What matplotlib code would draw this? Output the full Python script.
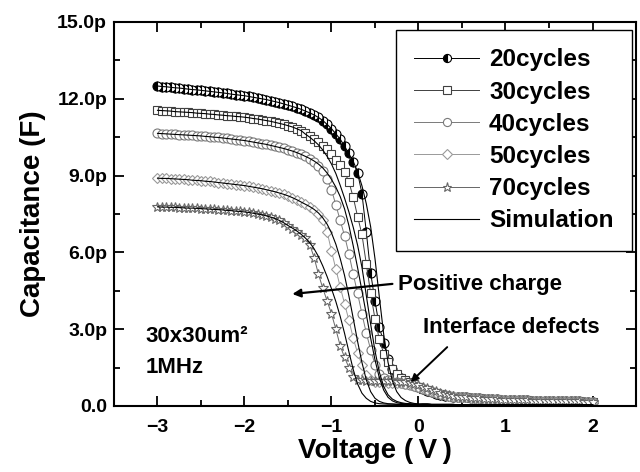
import numpy as np
import matplotlib
matplotlib.use('Agg')
import matplotlib.pyplot as plt

plt.rcParams['font.family'] = ['Liberation Sans', 'DejaVu Sans']
plt.rcParams['font.weight'] = 'bold'
plt.rcParams['axes.labelweight'] = 'bold'

# bias voltage, 0.05 V steps from -3 V to 2 V
volt = np.round(np.arange(-3.0, 2.0001, 0.05), 2)

# measured C-V (pF), -3.00 .. 0.50 V, then the shared flat tail 0.55 .. 2.00 V
tail_c = [0.34, 0.33, 0.31, 0.30, 0.29, 0.28, 0.27, 0.26, 0.25, 0.25,
          0.24, 0.23, 0.23, 0.22, 0.22, 0.21, 0.21, 0.21, 0.20, 0.20,
          0.20, 0.19, 0.19, 0.19, 0.18, 0.18, 0.18, 0.17, 0.17, 0.17]

c20 = [12.50, 12.48, 12.47, 12.45, 12.43, 12.42, 12.40, 12.38, 12.36, 12.35,
       12.33, 12.31, 12.29, 12.27, 12.25, 12.23, 12.21, 12.18, 12.16, 12.14,
       12.12, 12.09, 12.06, 12.03, 12.00, 11.97, 11.93, 11.89, 11.85, 11.80,
       11.75, 11.70, 11.65, 11.59, 11.52, 11.45, 11.37, 11.27, 11.15, 11.00,
       10.83, 10.63, 10.42, 10.15, 9.90, 9.55, 9.10, 8.30, 6.80, 5.20,
       4.10, 3.10, 2.45, 1.85, 1.45, 1.22, 1.08, 0.98, 0.90, 0.82,
       0.74, 0.66, 0.59, 0.53, 0.48, 0.44, 0.41, 0.39, 0.37, 0.36, 0.35] + tail_c

c30 = [11.55, 11.54, 11.53, 11.52, 11.50, 11.49, 11.48, 11.47, 11.46, 11.44,
       11.43, 11.42, 11.40, 11.39, 11.37, 11.36, 11.34, 11.33, 11.31, 11.30,
       11.28, 11.26, 11.23, 11.21, 11.18, 11.15, 11.12, 11.08, 11.04, 11.00,
       10.95, 10.90, 10.83, 10.76, 10.67, 10.55, 10.42, 10.30, 10.16, 10.02,
       9.85, 9.62, 9.40, 9.15, 8.75, 8.15, 7.40, 6.70, 5.55, 4.40,
       3.40, 2.60, 2.05, 1.70, 1.45, 1.25, 1.10, 1.00, 0.92, 0.84,
       0.76, 0.68, 0.61, 0.55, 0.50, 0.45, 0.42, 0.39, 0.37, 0.36, 0.35] + tail_c

c40 = [10.65, 10.64, 10.63, 10.62, 10.61, 10.60, 10.59, 10.58, 10.57, 10.56,
       10.55, 10.53, 10.52, 10.50, 10.49, 10.47, 10.45, 10.43, 10.41, 10.39,
       10.37, 10.34, 10.31, 10.28, 10.25, 10.22, 10.18, 10.14, 10.10, 10.06,
       10.01, 9.96, 9.90, 9.83, 9.75, 9.65, 9.53, 9.38, 9.18, 8.85,
       8.45, 7.85, 7.25, 6.65, 5.95, 5.15, 4.40, 3.60, 2.85, 2.20,
       1.62, 1.25, 1.08, 1.00, 0.95, 0.92, 0.89, 0.86, 0.83, 0.79,
       0.74, 0.68, 0.62, 0.56, 0.51, 0.46, 0.42, 0.39, 0.37, 0.36, 0.35] + tail_c

c50 = [8.90, 8.89, 8.89, 8.88, 8.87, 8.86, 8.85, 8.84, 8.82, 8.81,
       8.80, 8.78, 8.77, 8.75, 8.73, 8.71, 8.69, 8.67, 8.65, 8.63,
       8.61, 8.58, 8.55, 8.52, 8.49, 8.45, 8.41, 8.37, 8.32, 8.27,
       8.21, 8.14, 8.06, 7.97, 7.88, 7.78, 7.66, 7.50, 7.25, 6.80,
       6.05, 5.35, 4.65, 4.00, 3.35, 2.65, 2.07, 1.60, 1.20, 1.00,
       0.95, 0.93, 0.92, 0.91, 0.90, 0.89, 0.88, 0.86, 0.84, 0.80,
       0.76, 0.70, 0.64, 0.58, 0.52, 0.47, 0.43, 0.40, 0.38, 0.36, 0.35] + tail_c

c70 = [7.78, 7.77, 7.77, 7.76, 7.76, 7.75, 7.74, 7.73, 7.73, 7.72,
       7.71, 7.70, 7.69, 7.68, 7.67, 7.66, 7.64, 7.63, 7.61, 7.60,
       7.58, 7.56, 7.53, 7.50, 7.47, 7.43, 7.38, 7.32, 7.25, 7.16,
       7.05, 6.92, 6.80, 6.68, 6.55, 6.30, 5.80, 5.15, 4.60, 4.10,
       3.60, 3.00, 2.35, 1.90, 1.50, 1.15, 1.02, 1.00, 0.99, 0.98,
       0.98, 0.97, 0.97, 0.96, 0.96, 0.95, 0.94, 0.93, 0.91, 0.87,
       0.82, 0.76, 0.69, 0.63, 0.57, 0.52, 0.47, 0.43, 0.40, 0.37, 0.35] + tail_c

# simulated curves: same plateau as the data, own drop, floor 0.05 .. 2.00 V
sim_floor = [0.07, 0.07, 0.06, 0.06, 0.06, 0.06, 0.06, 0.06, 0.05, 0.05,
             0.05, 0.05, 0.05, 0.05, 0.05, 0.05, 0.05, 0.05, 0.05, 0.05,
             0.05, 0.05, 0.05, 0.05, 0.05, 0.04, 0.04, 0.04, 0.04, 0.04,
             0.04, 0.04, 0.04, 0.04, 0.04, 0.04, 0.04, 0.04, 0.04, 0.04]

s20 = c20[:44] + [9.85, 9.55, 9.15, 8.60, 7.90, 7.00, 5.75, 4.25, 2.80, 1.70,
                  0.98, 0.56, 0.33, 0.21, 0.14, 0.10, 0.08] + sim_floor
s30 = c30[:34] + [10.62, 10.50, 10.36, 10.20, 10.00, 9.75, 9.45, 9.08, 8.62, 8.12,
                  7.58, 6.98, 6.28, 5.42, 4.32, 3.20, 2.15, 1.32, 0.76, 0.44,
                  0.27, 0.18, 0.13, 0.10, 0.09, 0.08, 0.07] + sim_floor
s40 = c40[:34] + [9.75, 9.67, 9.57, 9.45, 9.30, 9.10, 8.85, 8.55, 8.18, 7.70,
                  7.05, 6.25, 5.40, 4.50, 3.58, 2.65, 1.80, 1.10, 0.62, 0.34,
                  0.20, 0.13, 0.10, 0.08, 0.07, 0.07, 0.06] + sim_floor
s50 = c50[:34] + [7.88, 7.79, 7.68, 7.54, 7.35, 7.10, 6.76, 6.32, 5.76, 5.10,
                  4.30, 3.42, 2.52, 1.70, 1.02, 0.56, 0.30, 0.18, 0.12, 0.09,
                  0.08, 0.07, 0.07, 0.06, 0.06, 0.06, 0.06] + sim_floor
s70 = c70[:30] + [7.05, 6.95, 6.84, 6.71, 6.56, 6.38, 6.14, 5.84, 5.47, 5.05,
                  4.58, 4.08, 3.50, 2.84, 2.12, 1.42, 0.86, 0.50, 0.30, 0.18,
                  0.12, 0.09, 0.08, 0.07, 0.07, 0.06, 0.06, 0.06, 0.06, 0.05,
                  0.05] + sim_floor

labels = ['20cycles', '30cycles', '40cycles', '50cycles', '70cycles']
y_ticks = [0, 3, 6, 9, 12, 15]
y_tick_labels = ['0.0', '3.0p', '6.0p', '9.0p', '12.0p', '15.0p']
x_ticks = [-3, -2, -1, 0, 1, 2]

fig = plt.figure(figsize=(6.4, 4.72), dpi=100)
ax = fig.add_axes([114 / 640, 66 / 472, 522 / 640, 384 / 472])

styles = [
    dict(marker='o', color='black', mfc='black', mfcalt='white', fillstyle='left', ms=6.5),
    dict(marker='s', color='#404040', mfc='white', ms=5.8),
    dict(marker='o', color='#7a7a7a', mfc='white', ms=6.5),
    dict(marker='D', color='#999999', mfc='white', ms=5.5),
    dict(marker='*', color='#666666', mfc='white', ms=7.5),
]

for c, lab, st in zip([c20, c30, c40, c50, c70], labels, styles):
    assert len(c) == len(volt)
    ax.plot(volt, c, marker=st['marker'], color=st['color'], lw=0.7,
            ms=st['ms'], mfc=st['mfc'], mec=st['color'], mew=0.8,
            fillstyle=st.get('fillstyle', 'full'),
            markerfacecoloralt=st.get('mfcalt', 'none'), label=lab)

for i, s in enumerate([s20, s30, s40, s50, s70]):
    assert len(s) == len(volt)
    ax.plot(volt, s, color='black', lw=0.8, zorder=5,
            label='Simulation' if i == 0 else None)

ax.set_xlim(-3.5, 2.5)
ax.set_ylim(0, 15)
ax.set_xticks(x_ticks)
ax.set_xticks([-3.5, -2.5, -1.5, -0.5, 0.5, 1.5, 2.5], minor=True)
ax.set_yticks(y_ticks)
ax.set_yticklabels(y_tick_labels)
ax.set_yticks([1.5, 4.5, 7.5, 10.5, 13.5], minor=True)
ax.tick_params(which='both', direction='in', top=True, right=True,
               width=1.3, labelsize=14)
ax.tick_params(which='major', length=7)
ax.tick_params(which='minor', length=4)
ax.tick_params(axis='x', pad=9)
ax.tick_params(axis='y', pad=5)
for sp in ax.spines.values():
    sp.set_linewidth(1.5)

ax.set_xlabel('Voltage (\u2009V\u2009)', fontsize=20, fontweight='bold', labelpad=2)
ax.set_ylabel('Capacitance (F)', fontsize=20, fontweight='bold', labelpad=8)

leg = ax.legend(loc='upper right', bbox_to_anchor=(0.992, 0.979),
                borderaxespad=0, fontsize=17.5, frameon=True, fancybox=False,
                edgecolor='black', framealpha=1, numpoints=1,
                handlelength=2.7, handletextpad=0.4, labelspacing=0.38,
                borderpad=0.75, markerscale=0.9)
leg.get_frame().set_linewidth(1.0)

ax.text(-3.14, 2.70, '30x30um²', fontsize=16, va='center')
ax.text(-3.14, 1.52, '1MHz', fontsize=16, va='center')

ax.text(-0.23, 4.73, 'Positive charge', fontsize=16, va='center')
ax.annotate('', xy=(-1.45, 4.375), xytext=(-0.30, 4.77),
            arrowprops=dict(arrowstyle='-|>', lw=1.6, color='black',
                            mutation_scale=12, shrinkA=0, shrinkB=0))
ax.text(0.05, 3.05, 'Interface defects', fontsize=16, va='center')
ax.annotate('', xy=(-0.09, 0.94), xytext=(0.33, 2.30),
            arrowprops=dict(arrowstyle='-|>', lw=1.4, color='black',
                            mutation_scale=11, shrinkA=0, shrinkB=0))

fig.savefig('out.png', dpi=100)
